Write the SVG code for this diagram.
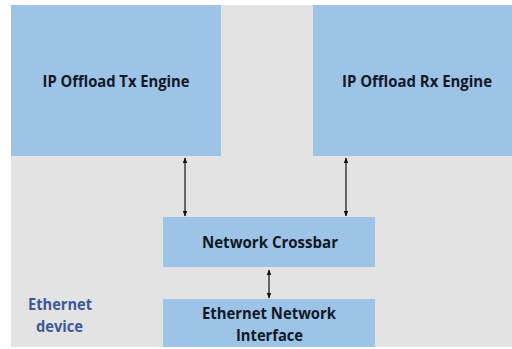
<svg xmlns="http://www.w3.org/2000/svg" width="512" height="349" viewBox="0 0 512 349">
  <defs>
    <style>
      .box { fill: #9dc3e6; }
      .lbl { font-family: "Open Sans", "Liberation Sans", sans-serif; font-weight: bold; font-size: 16px; fill: #111827; text-anchor: middle; }
      .dev { font-family: "Open Sans", "Liberation Sans", sans-serif; font-weight: bold; font-size: 16px; fill: #3b5998; text-anchor: middle; }
      .conn { stroke: #111; stroke-width: 1.2; fill: none; marker-start: url(#ah); marker-end: url(#ah); }
    </style>
    <marker id="ah" viewBox="0 0 10 10" refX="9" refY="5" markerWidth="6" markerHeight="6" markerUnits="userSpaceOnUse" orient="auto-start-reverse">
      <path d="M0,1 L10,5 L0,9 z" fill="#111"/>
    </marker>
  </defs>
  <rect x="0" y="0" width="512" height="349" fill="#ffffff"/>
  <rect id="background" x="11" y="5" width="501" height="342" fill="#e3e3e3"/>
  <g id="tx-engine">
    <rect class="box" x="11" y="5" width="210" height="151"/>
    <text class="lbl" x="116" y="87" textLength="147" lengthAdjust="spacingAndGlyphs">IP Offload Tx Engine</text>
  </g>
  <g id="rx-engine">
    <rect class="box" x="313" y="5" width="199" height="151"/>
    <text class="lbl" x="417" y="87" textLength="150" lengthAdjust="spacingAndGlyphs">IP Offload Rx Engine</text>
  </g>
  <g id="crossbar">
    <rect class="box" x="163" y="217" width="212" height="50"/>
    <text class="lbl" x="270" y="248" textLength="136" lengthAdjust="spacingAndGlyphs">Network Crossbar</text>
  </g>
  <g id="eth-interface">
    <rect class="box" x="163" y="299" width="212" height="48"/>
    <text class="lbl" x="269" y="319" textLength="134" lengthAdjust="spacingAndGlyphs">Ethernet Network</text>
    <text class="lbl" x="269.5" y="341" textLength="67" lengthAdjust="spacingAndGlyphs">Interface</text>
  </g>
  <g id="ethernet-device">
    <text class="dev" x="60" y="310" textLength="64" lengthAdjust="spacingAndGlyphs">Ethernet</text>
    <text class="dev" x="59.5" y="332" textLength="47" lengthAdjust="spacingAndGlyphs">device</text>
  </g>
  <g id="connectors">
    <line class="conn" x1="185" y1="158" x2="185" y2="216"/>
    <line class="conn" x1="346" y1="158" x2="346" y2="216"/>
    <line class="conn" x1="269" y1="270" x2="269" y2="298"/>
  </g>
</svg>
